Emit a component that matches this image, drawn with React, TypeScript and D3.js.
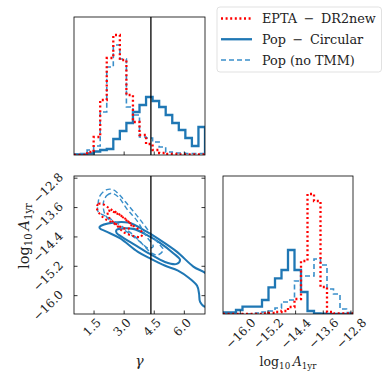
import React, { useEffect, useRef } from "react";
import * as d3 from "d3";

// axis ranges and ticks
const gammaRange = [0.5, 7.03];
const ampRange = [-16.5, -12.74];
const gammaTicks = [1.5, 3.0, 4.5, 6.0];
const ampTicks = [-16.0, -15.2, -14.4, -13.6, -12.8];
const gammaInjected = 13 / 3;
const histTop = 138;

// 1D histograms, 20 bins across each axis range (arbitrary units)
const eptaGamma = [0, 0, 3, 18, 55, 97, 120, 95, 60, 33, 20, 11, 5, 2, 1, 1, 0.5, 0.5, 0.5, 0.5];
const circGamma = [0.5, 0.5, 1.5, 3.5, 5, 6, 16, 24, 32, 43, 50, 58, 54, 48, 40, 32, 25, 17, 9, 28];
const noTmmGamma = [1, 1.5, 5, 9, 43, 88, 110, 96, 48, 40, 18, 17, 13, 8, 3, 2, 2, 1.5, 1.5, 1.5];

const eptaAmp = [0, 0, 0, 0, 0, 0, 0.5, 1, 2, 3, 7, 15, 53, 120, 113, 27, 2, 0.5, 0.5, 0.5];
const circAmp = [1.5, 1.5, 4, 7.3, 7.3, 7.3, 14, 26.7, 35.7, 44, 64, 44, 22, 3, 0.7, 0.3, 0, 0, 0, 0];
const noTmmAmp = [0, 0, 0, 0, 0, 1, 2, 3, 6, 12, 14, 33, 38, 38, 55, 49, 25, 20, 5, 1.5];

// 2D contours [gamma, log10 A], two levels per dataset
const eptaOuter = [[1.635, -13.59], [1.72, -13.5], [1.97, -13.514], [2.3, -13.637], [2.72, -13.773], [3.135, -13.955], [3.55, -14.135], [3.885, -14.271], [3.835, -14.4], [3.46, -14.372], [2.97, -14.271], [2.55, -14.045], [2.05, -13.909], [1.72, -13.726]];
const eptaInner = [[2.185, -13.691], [2.62, -13.754], [3.12, -13.936], [3.37, -14.119], [3.085, -14.181], [2.585, -14.045], [2.235, -13.854]];
const circOuter = [[1.785, -14.119], [2.45, -14.01], [3.2, -14.01], [4.12, -14.255], [4.785, -14.481], [5.62, -14.8], [6.45, -15.209], [7.185, -15.462], [7.185, -16.279], [7.045, -16.306], [6.785, -16.17], [6.735, -15.95], [6.635, -15.73], [6.235, -15.52], [5.685, -15.318], [5.02, -15.18], [4.335, -14.999], [3.685, -14.808], [2.785, -14.435], [2.12, -14.255], [1.785, -14.162]];
const circInner = [[2.62, -14.209], [3.45, -14.181], [4.12, -14.345], [4.785, -14.563], [5.45, -14.844], [5.785, -15.026], [5.62, -15.135], [5.035, -15.081], [4.285, -14.863], [3.535, -14.617], [2.885, -14.4], [2.62, -14.29]];
const noTmmOuter = [[1.7, -13.5], [1.8, -13.274], [2.135, -13.11], [2.47, -13.119], [2.8, -13.274], [3.22, -13.547], [3.635, -13.819], [4.035, -14.1], [4.435, -14.4], [4.785, -14.617], [4.95, -14.754], [4.685, -14.89], [4.37, -14.844], [3.95, -14.617], [3.45, -14.345], [2.785, -14.072], [2.12, -13.846], [1.7, -13.71]];
const noTmmInner = [[1.97, -13.454], [2.135, -13.274], [2.385, -13.209], [2.72, -13.318], [3.135, -13.637], [3.635, -13.955], [4.12, -14.391], [4.45, -14.664], [4.2, -14.707], [3.785, -14.528], [3.12, -14.255], [2.45, -14.026], [2.035, -13.773]];

const seriesNames = ["EPTA \u2009\u2212\u2009 DR2new", "Pop \u2009\u2212\u2009 Circular", "Pop (no TMM)"];

const FONT = "'DejaVu Serif', 'Liberation Serif', serif";

function App() {
  const svgRef = useRef();

  useEffect(() => {
    const svg = d3.select(svgRef.current);
    svg.selectAll("*").remove();

    const tl = { x: 74, y: 17, w: 131, h: 138 };
    const bl = { x: 74, y: 176, w: 131, h: 138 };
    const br = { x: 223, y: 176, w: 130, h: 138 };

    const xG = d3.scaleLinear().domain(gammaRange).range([bl.x, bl.x + bl.w]);
    const yA = d3.scaleLinear().domain(ampRange).range([bl.y + bl.h, bl.y]);
    const xA = d3.scaleLinear().domain(ampRange).range([br.x, br.x + br.w]);
    const yTop = d3.scaleLinear().domain([0, histTop]).range([tl.y + tl.h, tl.y]);
    const yRight = d3.scaleLinear().domain([0, histTop]).range([br.y + br.h, br.y]);

    const styles = [
      { color: "#ff0000", width: 2.3, dash: "2,2.6" },
      { color: "#1f77b4", width: 2.3, dash: null },
      { color: "#3a8fca", width: 1.6, dash: "5,3" },
    ];

    const defs = svg.append("defs");
    [["c-tl", tl], ["c-bl", bl], ["c-br", br]].forEach(([id, p]) => {
      defs.append("clipPath").attr("id", id)
        .append("rect").attr("x", p.x).attr("y", p.y).attr("width", p.w).attr("height", p.h);
    });

    const fmt = (v) => (v < 0 ? "\u2212" : "") + Math.abs(v).toFixed(1);

    // histograms
    function drawHist(g, values, xs, ys, st) {
      const [a, b] = xs.domain();
      const n = values.length;
      const step = (b - a) / n;
      const pts = [[a, 0], ...values.map((v, i) => [a + i * step, v]), [b, values[n - 1]], [b, 0]];
      const line = d3.line().x((d) => xs(d[0])).y((d) => ys(d[1])).curve(d3.curveStepAfter);
      g.append("path").attr("d", line(pts)).attr("fill", "none")
        .attr("stroke", st.color).attr("stroke-width", st.width)
        .attr("stroke-dasharray", st.dash);
    }

    const gTl = svg.append("g").attr("clip-path", "url(#c-tl)");
    const gBr = svg.append("g").attr("clip-path", "url(#c-br)");
    const gBl = svg.append("g").attr("clip-path", "url(#c-bl)");

    const gammaHists = [eptaGamma, circGamma, noTmmGamma];
    const ampHists = [eptaAmp, circAmp, noTmmAmp];
    [1, 2, 0].forEach((k) => {
      drawHist(gTl, gammaHists[k], xG, yTop, styles[k]);
      drawHist(gBr, ampHists[k], xA, yRight, styles[k]);
    });

    // contours
    const contourLine = d3.line().x((d) => xG(d[0])).y((d) => yA(d[1]))
      .curve(d3.curveCatmullRomClosed.alpha(0.5));
    const contours = [[eptaOuter, eptaInner], [circOuter, circInner], [noTmmOuter, noTmmInner]];
    [1, 2, 0].forEach((k) => {
      contours[k].forEach((c) => {
        gBl.append("path").attr("d", contourLine(c)).attr("fill", "none")
          .attr("stroke", styles[k].color).attr("stroke-width", styles[k].width * 0.9)
          .attr("stroke-dasharray", styles[k].dash);
      });
    });

    // injected gamma line
    [[tl, gTl], [bl, gBl]].forEach(([p, g]) => {
      g.append("line").attr("x1", xG(gammaInjected)).attr("x2", xG(gammaInjected))
        .attr("y1", p.y).attr("y2", p.y + p.h)
        .attr("stroke", "black").attr("stroke-width", 1.3);
    });

    // frames
    [tl, bl, br].forEach((p) => {
      svg.append("rect").attr("x", p.x).attr("y", p.y).attr("width", p.w).attr("height", p.h)
        .attr("fill", "none").attr("stroke", "black").attr("stroke-width", 0.8);
    });

    // ticks (inward)
    const tk = 3.5;
    const ticks = svg.append("g").attr("stroke", "black").attr("stroke-width", 0.8);
    gammaTicks.forEach((t) => {
      ticks.append("line").attr("x1", xG(t)).attr("x2", xG(t)).attr("y1", tl.y + tl.h).attr("y2", tl.y + tl.h - tk);
      ticks.append("line").attr("x1", xG(t)).attr("x2", xG(t)).attr("y1", bl.y + bl.h).attr("y2", bl.y + bl.h - tk);
    });
    ampTicks.forEach((t) => {
      ticks.append("line").attr("x1", bl.x).attr("x2", bl.x + tk).attr("y1", yA(t)).attr("y2", yA(t));
      ticks.append("line").attr("x1", bl.x + bl.w).attr("x2", bl.x + bl.w - tk).attr("y1", yA(t)).attr("y2", yA(t));
      ticks.append("line").attr("x1", xA(t)).attr("x2", xA(t)).attr("y1", br.y + br.h).attr("y2", br.y + br.h - tk);
    });

    // rotated tick labels
    const labels = svg.append("g").attr("font-family", FONT).attr("font-size", 12).attr("fill", "#222");
    function rotLabel(text, place) {
      const t = labels.append("text").attr("text-anchor", "middle").text(text);
      const bb = t.node().getBBox();
      const cx = bb.x + bb.width / 2;
      const cy = bb.y + bb.height / 2 + bb.height * 0.06;
      const s = (bb.width + bb.height * 0.65) / Math.SQRT2;
      const [px, py] = place(s);
      t.attr("transform", `translate(${px},${py}) rotate(-45) translate(${-cx},${-cy})`);
    }
    const xLabTop = bl.y + bl.h + 4;
    gammaTicks.forEach((t) => rotLabel(fmt(t), (s) => [xG(t) - 1.5, xLabTop + s / 2]));
    ampTicks.forEach((t) => rotLabel(fmt(t), (s) => [xA(t) + 1, xLabTop + s / 2]));
    ampTicks.forEach((t) => rotLabel(fmt(t), (s) => [bl.x - 9 - s / 2, yA(t) + 10.5]));

    // axis labels
    const axl = svg.append("g").attr("font-family", FONT).attr("fill", "#222");
    axl.append("text").attr("x", bl.x + bl.w / 2).attr("y", 366).attr("font-size", 14)
      .attr("text-anchor", "middle").attr("font-style", "italic").text("\u03b3");
    function ampLabel(t, fs) {
      const sub = fs * 0.7;
      const d = fs * 0.22;
      t.attr("font-size", fs);
      t.append("tspan").text("log");
      t.append("tspan").attr("font-size", sub).attr("dy", d).text("10");
      t.append("tspan").attr("dy", -d).attr("font-style", "italic").text("\u2009A");
      t.append("tspan").attr("font-size", sub).attr("dy", d).text("1yr");
    }
    ampLabel(axl.append("text").attr("x", br.x + br.w / 2).attr("y", 366).attr("text-anchor", "middle"), 12.5);
    ampLabel(axl.append("text").attr("text-anchor", "middle")
      .attr("transform", `translate(29,${bl.y + bl.h / 2 - 9}) rotate(-90)`), 14.5);

    // legend
    const lg = svg.append("g");
    lg.append("rect").attr("x", 217).attr("y", 7).attr("width", 164.5).attr("height", 65)
      .attr("rx", 3).attr("fill", "white").attr("stroke", "#d9d9d9").attr("stroke-width", 0.8);
    const rowY = d3.scalePoint().domain(seriesNames).range([18.5, 60]);
    seriesNames.forEach((name, k) => {
      const y = rowY(name);
      lg.append("line").attr("x1", 221).attr("x2", 252).attr("y1", y).attr("y2", y)
        .attr("stroke", styles[k].color).attr("stroke-width", styles[k].width)
        .attr("stroke-dasharray", styles[k].dash);
      lg.append("text").attr("x", 262).attr("y", y + 4.5).attr("font-family", FONT)
        .attr("font-size", 12.8).attr("fill", "#222").text(name);
    });
  }, []);

  return (
    <svg ref={svgRef} width={389} height={389}
      style={{ position: "absolute", left: 0, top: 0, background: "white" }} />
  );
}

export default App;
